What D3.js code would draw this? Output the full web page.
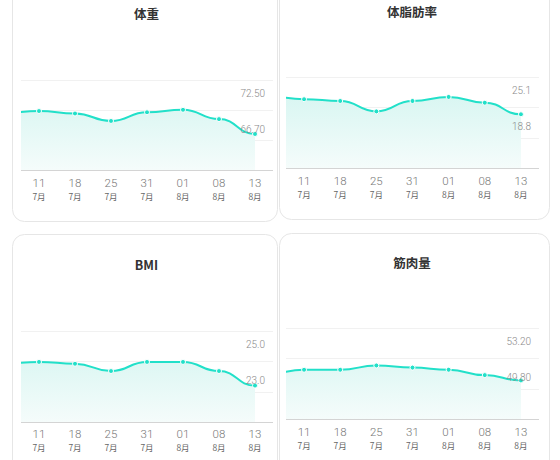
<!DOCTYPE html>
<html>
<head>
<meta charset="utf-8">
<script src="https://cdn.jsdelivr.net/npm/d3@7"></script>
<style>
  html, body { margin: 0; padding: 0; background: #fff; }
  svg { display: block; }
</style>
</head>
<body>
<svg id="chart" width="560" height="460"></svg>
<script>
// dates on the x axis
var days = ['11', '18', '25', '31', '01', '08', '13'];
var months = ['7月', '7月', '7月', '7月', '8月', '8月', '8月'];

// series values (prev = the point just left of the visible window)
var weight = [70.4, 70.0, 68.8, 70.2, 70.6, 69.1, 66.7];
var weightPrev = 70.1;
var weightRange = ['66.70', '72.50'];

var fatRate = [24.4, 24.1, 22.3, 24.1, 24.8, 23.8, 21.8];
var fatRatePrev = 24.9;
var fatRateRange = ['18.8', '25.1'];

var bmi = [24.3, 24.2, 23.8, 24.3, 24.3, 23.8, 23.0];
var bmiPrev = 24.2;
var bmiRange = ['23.0', '25.0'];

var muscle = [51.0, 51.0, 51.4, 51.2, 51.0, 50.5, 50.0];
var musclePrev = 50.6;
var muscleRange = ['49.80', '53.20'];

var titles = ['体重', '体脂肪率', 'BMI', '筋肉量'];

(function () {
    'use strict';
    var svg = d3.select('#chart');
    var lineColor = '#22e0c9';

    var panels = [
        {title: titles[0], values: weight, prev: weightPrev, range: weightRange,
         card: {x0: 12, x1: 277, y0: -30, y1: 221}, plot: {left: 21, right: 273, top: 80, bottom: 170},
         titleY: 15, dayY: 183, monthY: 197, labelX: 265},
        {title: titles[1], values: fatRate, prev: fatRatePrev, range: fatRateRange,
         card: {x0: 279, x1: 549, y0: -30, y1: 219}, plot: {left: 286, right: 539, top: 77, bottom: 168},
         titleY: 13, dayY: 181, monthY: 195, labelX: 531},
        {title: titles[2], values: bmi, prev: bmiPrev, range: bmiRange,
         card: {x0: 12, x1: 277, y0: 234, y1: 500}, plot: {left: 21, right: 273, top: 331, bottom: 422},
         titleY: 266, dayY: 434, monthY: 448, labelX: 265},
        {title: titles[3], values: muscle, prev: musclePrev, range: muscleRange,
         card: {x0: 279, x1: 549, y0: 233, y1: 500}, plot: {left: 286, right: 539, top: 328, bottom: 419},
         titleY: 264, dayY: 432, monthY: 446, labelX: 531}
    ];

    var defs = svg.append('defs');

    panels.forEach(function (p, i) {
        var g = svg.append('g');
        var c = p.card;
        g.append('rect')
            .attr('x', c.x0 + 0.5).attr('y', c.y0 + 0.5)
            .attr('width', c.x1 - c.x0).attr('height', c.y1 - c.y0)
            .attr('rx', 12).attr('ry', 12)
            .attr('fill', '#fff').attr('stroke', '#e6e6e6').attr('stroke-width', 1);

        g.append('text')
            .attr('x', (p.plot.left + p.plot.right) / 2 - 0.5).attr('y', p.titleY)
            .attr('dy', '0.35em')
            .attr('style', 'font-family: "Noto Sans CJK SC", "Noto Sans"; font-size: 12.5px; font-weight: bold; text-anchor: middle; fill: #333')
            .text(p.title);

        var lo = +p.range[0], hi = +p.range[1], span = hi - lo;
        var x = d3.scalePoint().domain(days).range([p.plot.left, p.plot.right]).padding(0.5);
        var y = d3.scaleLinear().domain([lo - span, hi + span / 2]).range([p.plot.bottom, p.plot.top]);

        // faint grid lines
        var grid = [0, 1, 2].map(function (k) { return p.plot.top + k * (p.plot.bottom - p.plot.top) / 3; });
        g.selectAll('.grid').data(grid).enter().append('line')
            .attr('x1', p.plot.left).attr('x2', p.plot.right)
            .attr('y1', function (d) { return Math.round(d) + 0.5; })
            .attr('y2', function (d) { return Math.round(d) + 0.5; })
            .attr('stroke', '#f1f1f1').attr('stroke-width', 1);

        var pts = [{x: x(days[0]) - x.step(), v: p.prev}].concat(p.values.map(function (v, j) {
            return {x: x(days[j]), v: v};
        }));

        var clipId = 'clip' + i;
        defs.append('clipPath').attr('id', clipId).append('rect')
            .attr('x', p.plot.left).attr('y', p.plot.top - 20)
            .attr('width', p.plot.right - p.plot.left).attr('height', p.plot.bottom - p.plot.top + 20);

        var gradId = 'grad' + i;
        var grad = defs.append('linearGradient').attr('id', gradId)
            .attr('gradientUnits', 'userSpaceOnUse')
            .attr('x1', 0).attr('x2', 0).attr('y1', p.plot.top + 20).attr('y2', p.plot.bottom);
        grad.append('stop').attr('offset', '0%').attr('stop-color', '#d9f6f2');
        grad.append('stop').attr('offset', '100%').attr('stop-color', '#f5fcfb');

        var area = d3.area().curve(d3.curveBumpX)
            .x(function (d) { return d.x; })
            .y0(p.plot.bottom)
            .y1(function (d) { return y(d.v); });
        var line = d3.line().curve(d3.curveBumpX)
            .x(function (d) { return d.x; })
            .y(function (d) { return y(d.v); });

        var inner = g.append('g').attr('clip-path', 'url(#' + clipId + ')');
        inner.append('path').attr('d', area(pts)).attr('fill', 'url(#' + gradId + ')');
        inner.append('path').attr('d', line(pts)).attr('fill', 'none')
            .attr('stroke', lineColor).attr('stroke-width', 2);

        // baseline
        g.append('line')
            .attr('x1', p.plot.left).attr('x2', p.plot.right)
            .attr('y1', p.plot.bottom + 0.5).attr('y2', p.plot.bottom + 0.5)
            .attr('stroke', '#d4d4d4').attr('stroke-width', 1);

        g.selectAll('.dot').data(p.values).enter().append('circle')
            .attr('cx', function (d, j) { return x(days[j]); })
            .attr('cy', function (d) { return y(d); })
            .attr('r', 2.5)
            .attr('fill', lineColor).attr('stroke', '#fff').attr('stroke-width', 1);

        // max / min labels
        p.range.forEach(function (lab) {
            g.append('text')
                .attr('x', p.labelX).attr('y', y(+lab) - 5)
                .attr('dy', '0.35em')
                .attr('style', 'font-family: Roboto, "Noto Sans"; font-size: 10px; font-weight: 300; text-anchor: end; fill: #8a8a8a')
                .text(lab);
        });

        // x axis labels
        g.selectAll('.day').data(days).enter().append('text')
            .attr('x', function (d) { return x(d); }).attr('y', p.dayY)
            .attr('dy', '0.35em')
            .attr('style', 'font-family: Roboto, "Noto Sans"; font-size: 11.5px; font-weight: 300; text-anchor: middle; fill: #777')
            .text(function (d) { return d; });
        g.selectAll('.month').data(months).enter().append('text')
            .attr('x', function (d, j) { return x(days[j]); }).attr('y', p.monthY)
            .attr('dy', '0.35em')
            .attr('style', 'font-family: "Noto Sans CJK SC", "Noto Sans"; font-size: 8.5px; text-anchor: middle; fill: #666')
            .text(function (d) { return d; });
    });
})();
</script>
</body>
</html>
